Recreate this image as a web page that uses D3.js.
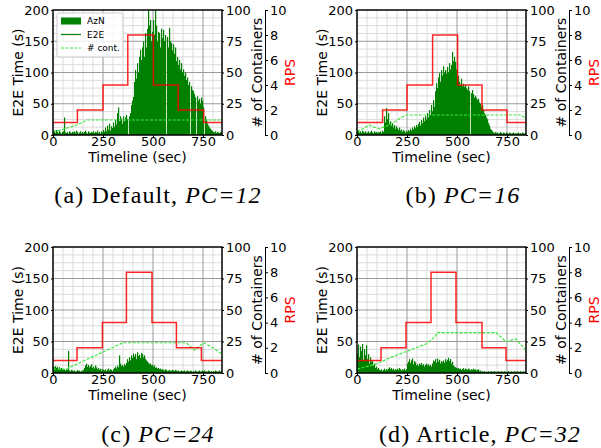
<!DOCTYPE html>
<html>
<head>
<meta charset="utf-8">
<script src="https://cdn.jsdelivr.net/npm/d3@7"></script>
<style>
  body { margin: 0; background: #fff; }
  text { font-family: "DejaVu Sans", sans-serif; }
</style>
</head>
<body>
<svg id="chart" width="601" height="448"></svg>
<script>
const binSec = 5;
const xMax = 845;
const xTicks = [0, 250, 500, 750];
const yTicks = [0, 50, 100, 150, 200];
const contTicks = [0, 25, 50, 75, 100];
const rpsTicks = [0, 2, 4, 6, 8, 10];
const rpsLevels = [1, 2, 4, 8, 4, 2, 1];

// AzN / E2E time (s), one value per 5 s
const azA = [
  4,6,3,8,5,3,7,4,2,5,  6,28,4,3,5,2,6,4,3,5,  4,6,3,7,5,2,4,6,3,5,
  3,5,7,4,2,6,4,3,5,4,  6,3,5,4,7,3,5,2,6,4,  8,5,12,6,15,9,18,7,14,11,
  20,13,24,17,35,44,22,30,26,18,  30,22,28,32,25,0,30,35,48,55,
  61,85,104,90,115,100,125,136,120,140,  150,125,163,140,170,200,175,184,150,165,
  184,160,200,175,150,165,163,140,170,155,  168,150,160,0,157,140,171,150,147,135,
  145,130,140,118,125,112,120,105,115,100,  105,95,100,88,92,80,85,0,78,72,
  70,65,60,0,62,55,58,50,60,55,  45,0,30,25,18,15,12,10,8,6,  5,4,6,3,5,4,3,5,4
];
const azB = [
  5,8,4,6,3,7,5,4,6,3,  4,6,3,5,7,4,3,6,4,5,  3,5,4,6,3,7,5,30,20,43,
  25,35,18,22,15,19,12,16,10,14,  11,8,12,7,9,5,8,6,4,7,  5,8,6,10,7,12,9,14,11,16,
  13,18,21,15,24,19,28,22,30,25,  35,28,40,32,48,38,56,45,70,83,
  75,92,99,85,104,95,110,100,104,98,  109,100,115,105,112,133,118,125,117,105,
  88,95,85,80,90,78,82,77,80,75,  72,78,70,0,67,72,65,60,63,59,
  56,58,52,50,45,48,40,35,32,28,  25,19,15,10,8,6,4,3,5,3,
  4,2,3,5,3,2,4,3,2,4,  3,2,4,3,2,3,4,2,3,2,  3,4,2,3,2,4,3,2,3
];
const azC = [
  10,9,11,8,10,7,9,6,8,5,  6,5,4,6,5,35,4,3,5,4,  3,4,2,3,5,3,4,2,3,4,
  5,8,12,15,10,13,9,11,14,8,  10,7,12,9,6,8,5,7,4,6,  5,4,6,3,5,7,4,6,5,3,
  6,8,10,7,12,9,28,15,11,13,  10,14,12,16,22,18,25,20,28,24,
  31,26,30,22,33,27,29,24,32,30,  25,28,22,20,18,16,14,15,12,13,
  10,12,8,9,7,8,6,7,5,6,  5,4,6,5,3,4,5,3,4,5,  4,3,5,4,3,4,2,3,4,3,
  3,4,2,3,4,3,2,4,3,2,  3,2,4,3,2,3,4,2,3,4,  3,4,2,3,2,4,3,2,3,2,  3,2,4,3,2,3,4,2,3
];
const azD = [
  30,45,25,42,35,46,20,38,28,44,  22,30,15,25,18,20,12,15,8,10,  6,8,5,4,6,3,5,7,4,6,
  5,7,9,6,8,5,7,4,6,5,  7,5,8,6,4,6,5,7,4,6,  15,18,22,16,20,23,14,19,17,12,
  14,11,15,13,16,12,14,10,13,15,  12,14,11,13,10,15,20,18,22,16,
  23,18,21,15,19,17,20,16,22,18,  21,24,19,22,15,18,12,10,9,8,
  7,8,6,7,5,6,8,5,7,6,  5,7,6,4,6,5,7,5,6,4,  5,6,3,4,2,3,2,3,2,2,
  2,3,2,2,3,2,2,3,2,2,  2,3,2,2,3,2,2,3,2,2,  2,3,2,2,3,2,2,3,2,2,  3,2,2,3,2,2,3,2,2
];

// # of containers: [time, count]
const contA = [[0,3],[40,4],[80,6],[119,8],[145,10],[170,12],[845,12]];
const contB = [[0,3],[30,5],[62,8],[90,6],[112,5],[162,8],[212,13],[245,16],[820,16],[845,13]];
const contC = [[0,3],[67,3],[117,7],[200,13],[283,19],[350,24],[667,24],[708,18],[753,24],[800,20],[845,15]];
const contD = [[0,3],[45,5],[95,7],[178,13],[262,18],[345,23],[392,29],[400,32],[695,32],[745,25],[795,27],[845,18]];

// RPS step change times (s)
const stepsA = [0, 122, 250, 374, 502, 626, 753];
const stepsB = [0, 128, 250, 378, 503, 625, 750];
const stepsC = [0, 120, 247, 367, 495, 617, 742];
const stepsD = [0, 120, 245, 370, 495, 625, 745];

const svg = d3.select('#chart');
const plotW = 169;

const panels = [
  {id: 'a', left: 53, top: 10, bottom: 135, az: azA, cont: contA, steps: stepsA,
   cap: ['(a) Default, ', 'PC=12'], capX: 158, capY: 203, legend: true},
  {id: 'b', left: 357, top: 10, bottom: 135, az: azB, cont: contB, steps: stepsB,
   cap: ['(b) ', 'PC=16'], capX: 463, capY: 203},
  {id: 'c', left: 53, top: 247, bottom: 373, az: azC, cont: contC, steps: stepsC,
   cap: ['(c) ', 'PC=24'], capX: 158, capY: 442},
  {id: 'd', left: 357, top: 247, bottom: 373, az: azD, cont: contD, steps: stepsD,
   cap: ['(d) Article, ', 'PC=32'], capX: 480, capY: 442}
];

function styleAxis(sel) {
  sel.selectAll('text').attr('font-size', 13).attr('fill', '#000')
    .attr('font-family', '"DejaVu Sans", sans-serif');
  sel.selectAll('line').attr('stroke', '#000');
}

function drawPanel(p) {
  const right = p.left + plotW;
  const g = svg.append('g');

  const x = d3.scaleLinear().domain([0, xMax]).range([p.left, right]);
  const y = d3.scaleLinear().domain([0, 200]).range([p.bottom, p.top]);
  const yC = d3.scaleLinear().domain([0, 100]).range([p.bottom, p.top]);
  const yR = d3.scaleLinear().domain([0, 10]).range([p.bottom, p.top]);

  g.append('clipPath').attr('id', 'clip-' + p.id)
    .append('rect').attr('x', p.left).attr('y', p.top)
    .attr('width', plotW).attr('height', p.bottom - p.top);

  // grid
  const xMinor = d3.range(50, xMax, 50).filter(v => v % 250 !== 0);
  const yMinor = d3.range(12.5, 200, 12.5).filter(v => v % 50 !== 0);
  const grid = g.append('g');
  grid.selectAll('.xm').data(xMinor).join('line')
    .attr('x1', d => x(d)).attr('x2', d => x(d)).attr('y1', p.top).attr('y2', p.bottom)
    .attr('stroke', '#dcdcdc').attr('stroke-width', 1);
  grid.selectAll('.ym').data(yMinor).join('line')
    .attr('y1', d => y(d)).attr('y2', d => y(d)).attr('x1', p.left).attr('x2', right)
    .attr('stroke', '#dcdcdc').attr('stroke-width', 1);
  grid.selectAll('.xM').data(xTicks.slice(1)).join('line')
    .attr('x1', d => x(d)).attr('x2', d => x(d)).attr('y1', p.top).attr('y2', p.bottom)
    .attr('stroke', '#9a9a9a').attr('stroke-width', 1);
  grid.selectAll('.yM').data(yTicks.slice(1, -1)).join('line')
    .attr('y1', d => y(d)).attr('y2', d => y(d)).attr('x1', p.left).attr('x2', right)
    .attr('stroke', '#9a9a9a').attr('stroke-width', 1);

  const plot = g.append('g').attr('clip-path', `url(#clip-${p.id})`);

  // AzN bars
  plot.append('g').selectAll('rect').data(p.az).join('rect')
    .attr('x', (d, i) => x(i * binSec))
    .attr('width', x(binSec) - x(0) + 0.2)
    .attr('y', d => y(d))
    .attr('height', d => y(0) - y(d))
    .attr('fill', '#008000');

  // containers
  const contLine = d3.line().x(d => x(d[0])).y(d => yC(d[1]));
  plot.append('path').datum(p.cont).attr('d', contLine)
    .attr('fill', 'none').attr('stroke', '#3de83d').attr('stroke-width', 1.2)
    .attr('stroke-dasharray', '3,1.5');

  // RPS
  const rpsPts = p.steps.map((t, i) => [t, rpsLevels[i]]);
  rpsPts.push([xMax, rpsLevels[rpsLevels.length - 1]]);
  const rpsLine = d3.line().curve(d3.curveStepAfter).x(d => x(d[0])).y(d => yR(d[1]));
  plot.append('path').datum(rpsPts).attr('d', rpsLine)
    .attr('fill', 'none').attr('stroke', '#ff0000').attr('stroke-opacity', 0.85)
    .attr('stroke-width', 1.5);

  // frame
  g.append('rect').attr('x', p.left).attr('y', p.top)
    .attr('width', plotW).attr('height', p.bottom - p.top)
    .attr('fill', 'none').attr('stroke', '#000').attr('stroke-width', 1.5);

  // axes
  g.append('g').attr('transform', `translate(${p.left},0)`)
    .call(d3.axisLeft(y).tickValues(yTicks).tickSize(2).tickPadding(2))
    .call(a => a.select('.domain').remove()).call(styleAxis);
  g.append('g').attr('transform', `translate(0,${p.bottom})`)
    .call(d3.axisBottom(x).tickValues(xTicks).tickSize(2).tickPadding(0))
    .call(a => a.select('.domain').remove()).call(styleAxis);
  g.append('g').attr('transform', `translate(${right},0)`)
    .call(d3.axisRight(yC).tickValues(contTicks).tickSize(2).tickPadding(2))
    .call(a => a.select('.domain').remove()).call(styleAxis);
  g.append('g').attr('transform', `translate(${right + 43},0)`)
    .call(d3.axisRight(yR).tickValues(rpsTicks).tickSize(3).tickSizeOuter(0).tickPadding(2))
    .call(styleAxis)
    .call(a => a.select('.domain').attr('stroke', '#000'));

  // labels
  const midY = (p.top + p.bottom) / 2;
  g.append('text').attr('transform', `translate(${p.left - 35},${midY}) rotate(-90)`)
    .attr('text-anchor', 'middle').attr('dy', '0.35em').attr('font-size', 14)
    .text('E2E Time (s)');
  g.append('text').attr('x', (p.left + right) / 2).attr('y', p.bottom + 27)
    .attr('text-anchor', 'middle').attr('font-size', 14).text('Timeline (sec)');
  g.append('text').attr('transform', `translate(${right + 35},${midY}) rotate(-90)`)
    .attr('text-anchor', 'middle').attr('dy', '0.35em').attr('font-size', 14)
    .text('# of Containers');
  g.append('text').attr('transform', `translate(${right + 68},${midY}) rotate(-90)`)
    .attr('text-anchor', 'middle').attr('dy', '0.35em').attr('font-size', 14)
    .attr('fill', '#ff0000').text('RPS');

  // caption
  const cap = svg.append('text').attr('x', p.capX).attr('y', p.capY)
    .attr('text-anchor', 'middle').attr('font-size', 24).attr('letter-spacing', 1.1)
    .style('font-family', '"Liberation Serif", serif');
  cap.append('tspan').text(p.cap[0]);
  cap.append('tspan').attr('font-style', 'italic').text(p.cap[1]);

  if (p.legend) {
    const lg = g.append('g');
    lg.append('rect').attr('x', p.left + 4).attr('y', p.top + 3)
      .attr('width', 66).attr('height', 44).attr('rx', 2)
      .attr('fill', '#fff').attr('fill-opacity', 0.8)
      .attr('stroke', '#cccccc').attr('stroke-width', 1);
    const items = [
      {label: 'AzN', type: 'box'},
      {label: 'E2E', type: 'line'},
      {label: '# cont.', type: 'dash'}
    ];
    items.forEach((it, i) => {
      const cy = p.top + 11 + i * 13.5;
      if (it.type === 'box') {
        lg.append('rect').attr('x', p.left + 8).attr('y', cy - 3.5)
          .attr('width', 20).attr('height', 7).attr('fill', '#008000');
      } else {
        lg.append('line').attr('x1', p.left + 8).attr('x2', p.left + 28)
          .attr('y1', cy).attr('y2', cy)
          .attr('stroke', it.type === 'line' ? '#008000' : '#3de83d')
          .attr('stroke-width', 1.2)
          .attr('stroke-dasharray', it.type === 'dash' ? '3,1.5' : null);
      }
      lg.append('text').attr('x', p.left + 34).attr('y', cy).attr('dy', '0.35em')
        .attr('font-size', 9).text(it.label);
    });
  }
}

panels.forEach(drawPanel);
</script>
</body>
</html>
